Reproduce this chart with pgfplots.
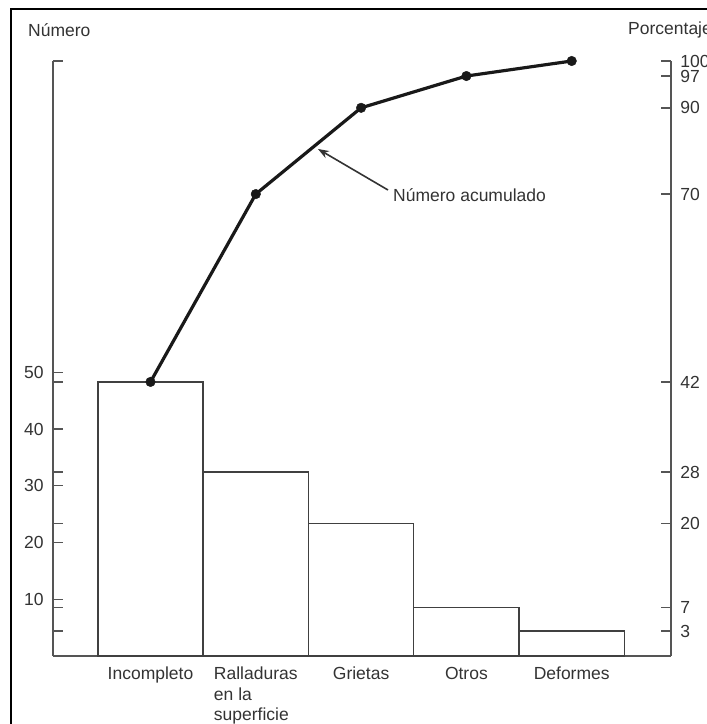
\documentclass[border=0pt]{standalone}
\usepackage{pgfplots}
\pgfplotsset{compat=1.18}
\usepackage{fontspec}
\setmainfont{Liberation Sans}
\usetikzlibrary{arrows.meta}
\definecolor{txt}{HTML}{333333}
\definecolor{axc}{HTML}{555555}
\begin{document}
\fontsize{17.5}{20.5}\selectfont
\begin{tikzpicture}[x=1pt,y=1pt]
\useasboundingbox (0,0) rectangle (707,724);
\draw[line width=2pt] (11,0) -- (11,715) -- (708,715);
\pgfplotsset{
  common/.style={
    at={(53pt,68pt)}, anchor=south west, scale only axis,
    width=618pt, height=595pt,
    xmin=-0.926, xmax=4.943, ymin=0, ymax=104.85,
    clip=false,
    axis line style={-, draw=axc, line width=1.4pt},
    tick align=inside, major tick length=10pt,
    tick style={draw=axc, line width=1.4pt},
    /pgf/number format/assume math mode=true,
    ticklabel style={text=txt, font=\fontsize{17.5}{20.5}\selectfont},
  }
}
\begin{axis}[common,
  axis x line*=bottom, axis y line*=left,
  xtick={0,1,2,3,4},
  xticklabels={Incompleto, Ralladuras\\en la\\superficie, Grietas, Otros, Deformes},
  xticklabel style={align=left, anchor=north, yshift=-5pt},
  xtick style={draw=none},
  ytick pos=left, xtick pos=bottom,
  ytick={10,20,30,40,50},
  extra y ticks={4.4,8.5,23.3,32.4,48.3,104.85},
  extra y tick labels={},
  extra y tick style={tick style={draw=axc, line width=1.4pt}},
  yticklabel style={xshift=-3.3pt},
]
\addplot[ybar, bar width=1, fill=white, draw=black!75, line width=1.4pt]
  coordinates {(0,48.3) (1,32.4) (2,23.3) (3,8.5) (4,4.4)};
\addplot[black!90, line width=3.2pt, mark=*, mark size=4.8pt, mark options={line width=0.4pt, fill=black!90}]
  coordinates {(0,48.3) (1,81.4) (2,96.6) (3,102.2) (4,104.85)};
\end{axis}
\begin{axis}[common,
  axis x line=none, axis y line*=right,
  ytick pos=right,
  ytick={4.4,8.5,23.3,32.4,48.3,81.4,96.6,102.2,104.85},
  yticklabels={3,7,20,28,42,70,90,97,100},
  yticklabel style={xshift=3.3pt},
]
\end{axis}
\node[anchor=west, inner sep=0, text=txt] at (28,694) {Número};
\node[anchor=west, inner sep=0, text=txt] at (628,694) {Porcentaje};
\draw[-{Stealth[length=11pt,width=8pt]}, line width=1.6pt, draw=black!80] (388,534) -- (318,575);
\node[anchor=west, inner sep=0, text=txt] at (393,529) {Número acumulado};
\end{tikzpicture}
\end{document}
